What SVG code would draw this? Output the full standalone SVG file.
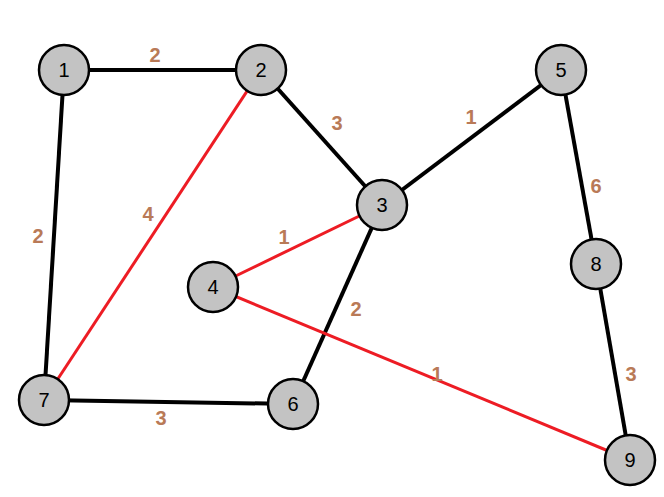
<svg xmlns="http://www.w3.org/2000/svg" width="664" height="497" viewBox="0 0 664 497">
<style>
.b{stroke:#000;stroke-width:4}
.r{stroke:#ED1C24;stroke-width:3}
.n circle{fill:#C3C3C3;stroke:#000;stroke-width:2.5}
.n text{font-family:"Liberation Sans",sans-serif;font-size:20px;text-anchor:middle;fill:#000}
.w{font-family:"Liberation Sans",sans-serif;font-size:20px;font-weight:bold;fill:#B97A57;text-anchor:middle}
</style>
<rect width="664" height="497" fill="#fff"/>
<g id="connectors">
<line class="b" x1="64" y1="70" x2="261" y2="70"/>
<line class="b" x1="64" y1="70" x2="44" y2="400"/>
<line class="b" x1="261" y1="70" x2="382" y2="205"/>
<line class="b" x1="382" y1="205" x2="561" y2="70"/>
<line class="b" x1="382" y1="205" x2="293" y2="404"/>
<line class="b" x1="44" y1="400" x2="293" y2="404"/>
<line class="b" x1="561" y1="70" x2="596" y2="264"/>
<line class="b" x1="596" y1="264" x2="630" y2="460"/>
<line class="r" x1="261" y1="70" x2="44" y2="400"/>
<line class="r" x1="382" y1="205" x2="213" y2="287"/>
<line class="r" x1="213" y1="287" x2="630" y2="460"/>
<text class="w" x="155" y="62">2</text>
<text class="w" x="337" y="130">3</text>
<text class="w" x="471" y="124">1</text>
<text class="w" x="148" y="221">4</text>
<text class="w" x="38" y="243">2</text>
<text class="w" x="284" y="244">1</text>
<text class="w" x="596" y="193">6</text>
<text class="w" x="356" y="316">2</text>
<text class="w" x="437" y="381">1</text>
<text class="w" x="631" y="381">3</text>
<text class="w" x="161" y="425">3</text>
</g>
<g id="n1" class="n"><circle cx="64" cy="70" r="25"/><text x="64" y="77">1</text></g>
<g id="n2" class="n"><circle cx="261" cy="70" r="25"/><text x="261" y="77">2</text></g>
<g id="n3" class="n"><circle cx="382" cy="205" r="25"/><text x="382" y="212">3</text></g>
<g id="n4" class="n"><circle cx="213" cy="287" r="25"/><text x="213" y="294">4</text></g>
<g id="n5" class="n"><circle cx="561" cy="70" r="25"/><text x="561" y="77">5</text></g>
<g id="n6" class="n"><circle cx="293" cy="404" r="25"/><text x="293" y="411">6</text></g>
<g id="n7" class="n"><circle cx="44" cy="400" r="25"/><text x="44" y="407">7</text></g>
<g id="n8" class="n"><circle cx="596" cy="264" r="25"/><text x="596" y="271">8</text></g>
<g id="n9" class="n"><circle cx="630" cy="460" r="25"/><text x="630" y="467">9</text></g>
</svg>
